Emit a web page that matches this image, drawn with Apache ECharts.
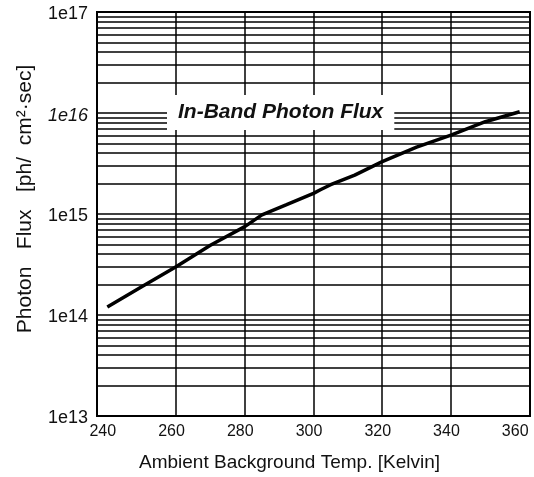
<!DOCTYPE html>
<html>
<head>
<meta charset="utf-8">
<script src="https://cdn.jsdelivr.net/npm/echarts@6/dist/echarts.min.js"></script>
<style>
  html, body { margin: 0; padding: 0; background: #fff; }
  #fluxchart { width: 534px; height: 477px; }
</style>
</head>
<body>
<div id="fluxchart"></div>
<script>
// temperature (K) and in-band photon flux (ph/cm2.sec)
var tempK = [240, 250, 260, 270, 280, 285, 292, 300, 302, 305, 312, 320, 330, 340, 350, 360];
var flux  = [1.2e14, 1.9e14, 3.0e14, 4.9e14, 7.5e14, 9.8e14, 1.23e15, 1.6e15, 1.74e15, 1.95e15, 2.43e15, 3.3e15, 4.6e15, 6.05e15, 8.2e15, 1.03e16];

var xTicks = [240, 260, 280, 300, 320, 340, 360];
var xGrid = [260, 280, 300, 320, 340];
var decades = [1e13, 1e14, 1e15, 1e16];
var minorSteps = [2, 3, 4, 5, 6, 7, 8, 9];

var lineData = tempK.map(function (t, i) { return [t, flux[i]]; });

var gridLines = [];
xGrid.forEach(function (v) { gridLines.push({ xAxis: v }); });
decades.forEach(function (d) {
  minorSteps.forEach(function (m) { gridLines.push({ yAxis: d * m }); });
});

var fluxChart = echarts.init(document.getElementById('fluxchart'));
var option = {
  animation: false,
  backgroundColor: '#fff',
  title: {
    text: 'In-Band Photon Flux',
    left: 167,
    top: 95,
    padding: [7, 11, 7, 11],
    backgroundColor: '#fff',
    textStyle: {
      fontFamily: 'Liberation Sans',
      fontStyle: 'italic',
      fontWeight: 'bold',
      fontSize: 21,
      lineHeight: 21,
      color: '#111'
    }
  },
  grid: {
    left: 97, right: 4, top: 12, bottom: 60,
    show: true,
    borderColor: '#000',
    borderWidth: 2,
    backgroundColor: 'transparent'
  },
  xAxis: {
    type: 'value',
    min: 237,
    max: 363,
    name: 'Ambient Background Temp. [Kelvin]',
    nameLocation: 'middle',
    nameGap: 37,
    nameTextStyle: {
      fontFamily: 'Liberation Sans', fontSize: 19, color: '#111',
      padding: [0, 48, 0, 0]
    },
    axisLine: { show: false },
    axisTick: { show: false },
    splitLine: { show: false },
    axisLabel: {
      customValues: xTicks,
      fontFamily: 'Liberation Sans',
      fontSize: 16,
      color: '#111',
      margin: 8,
      padding: [0, 9, 0, 0]
    }
  },
  yAxis: {
    type: 'log',
    logBase: 10,
    min: 1e13,
    max: 1e17,
    name: 'Photon   Flux   [ph/  cm\u00B2\u00B7sec]',
    nameLocation: 'middle',
    nameGap: 61,
    nameTextStyle: {
      fontFamily: 'Liberation Sans', fontSize: 21, color: '#111',
      padding: [0, 0, 0, 30]
    },
    axisLine: { show: false },
    axisTick: { show: false },
    splitLine: { show: true, lineStyle: { color: '#000', width: 1.5 } },
    axisLabel: {
      fontFamily: 'Liberation Sans',
      fontSize: 18,
      color: '#111',
      margin: 9,
      padding: [5, 0, 0, 0],
      formatter: function (v) {
        var e = Math.round(Math.log10(v));
        return e === 16 ? '{i|1e' + e + '}' : '1e' + e;
      },
      rich: {
        i: { fontFamily: 'Liberation Sans', fontSize: 18, fontStyle: 'italic', color: '#111' }
      }
    }
  },
  series: [{
    name: 'In-Band Photon Flux',
    type: 'line',
    data: lineData,
    symbol: 'none',
    lineStyle: { color: '#000', width: 3.5 },
    z: 3,
    markLine: {
      silent: true,
      symbol: 'none',
      label: { show: false },
      lineStyle: { color: '#000', width: 1.5, type: 'solid' },
      data: gridLines,
      z: 1
    }
  }]
};
fluxChart.setOption(option);
</script>
</body>
</html>
